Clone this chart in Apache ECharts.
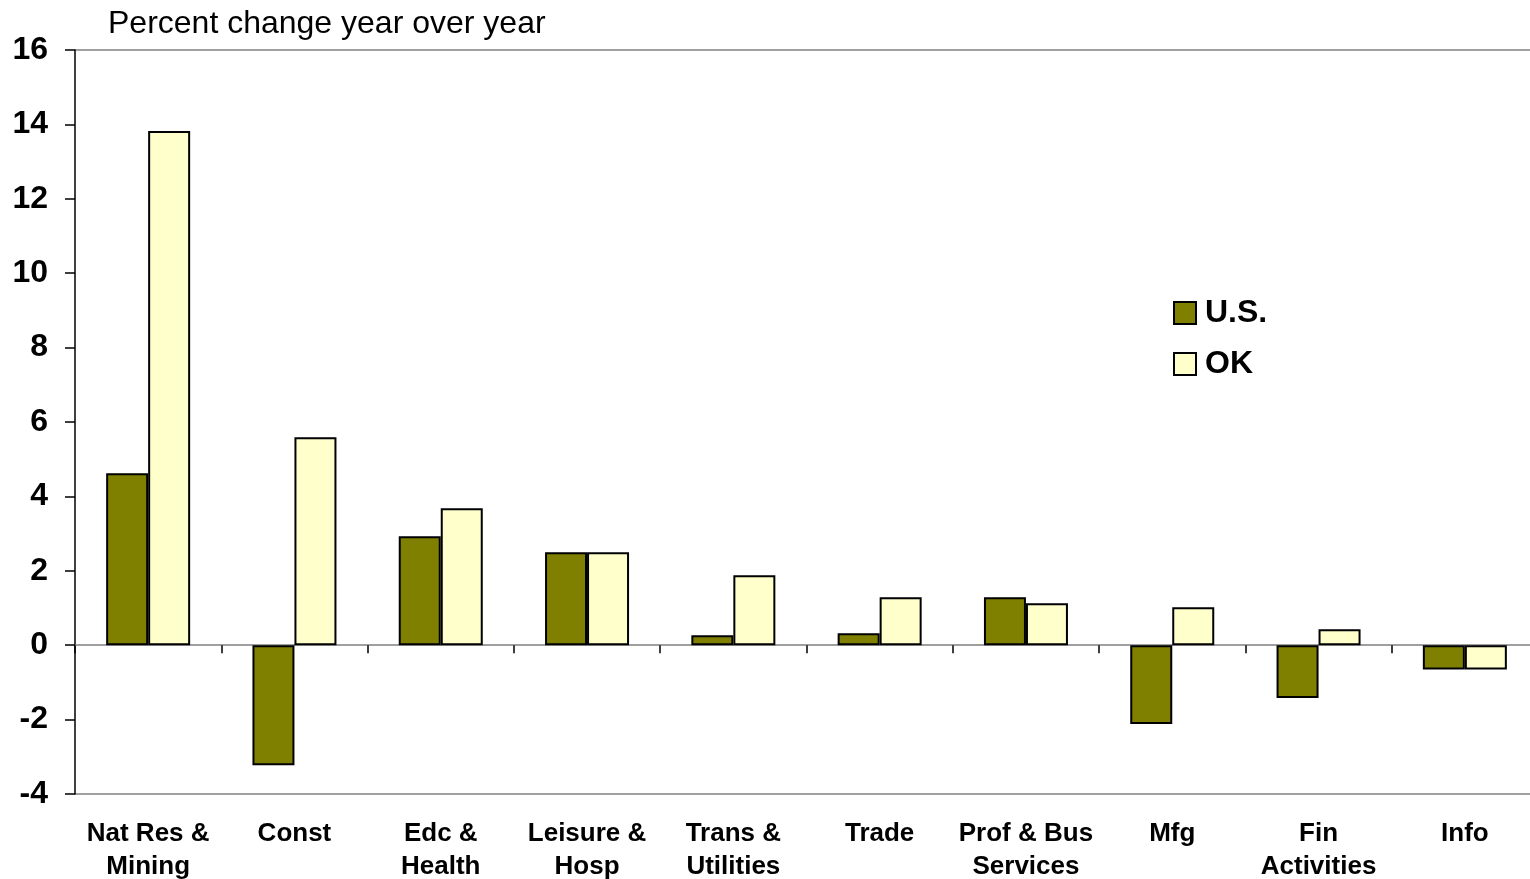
<!DOCTYPE html>
<html>
<head>
<meta charset="utf-8">
<title>Employment change by industry</title>
<script src="https://cdn.jsdelivr.net/npm/echarts@6/dist/echarts.min.js"></script>
<style>
  html, body { margin: 0; padding: 0; background: #ffffff; overflow: hidden; }
  #chart { width: 1530px; height: 879px; }
</style>
</head>
<body>
<div id="chart"></div>
<script>
// Industry sectors
const categories = [
  'Nat Res &\nMining', 'Const', 'Edc &\nHealth', 'Leisure &\nHosp', 'Trans &\nUtilities',
  'Trade', 'Prof & Bus\nServices', 'Mfg', 'Fin\nActivities', 'Info'
];
// Percent change year over year
const usValues = [4.62, -3.23, 2.93, 2.5, 0.27, 0.32, 1.29, -2.12, -1.42, -0.65];
const okValues = [13.82, 5.59, 3.68, 2.5, 1.88, 1.29, 1.13, 1.02, 0.43, -0.65];
const seriesNames = ['U.S.', 'OK'];

const FONT = '"Liberation Sans", Arial, Helvetica, sans-serif';

const chart = echarts.init(document.getElementById('chart'), null, { renderer: 'canvas' });

// Split lines drawn only at the min and max of the value axis (-4 and 16)
const clear = 'rgba(0,0,0,0)';
const splitColors = ['#808080', clear, clear, clear, clear, clear, clear, clear, clear, clear, '#808080'];

chart.setOption({
  animation: false,
  backgroundColor: '#ffffff',
  title: {
    text: 'Percent change year over year',
    left: 103,
    top: 3,
    textStyle: { fontFamily: FONT, fontSize: 32, fontWeight: 'normal', color: '#000' }
  },
  legend: {
    orient: 'vertical',
    left: 1168,
    top: 292,
    itemWidth: 22,
    itemHeight: 22,
    itemGap: 19,
    icon: 'rect',
    data: seriesNames,
    textStyle: { fontFamily: FONT, fontSize: 32, fontWeight: 'bold', color: '#000', padding: [0, 0, 0, 4] }
  },
  grid: { left: 75, right: -8, top: 50, bottom: 85, containLabel: false, outerBoundsMode: 'none' },
  xAxis: [
    {
      // axis line at zero with boundary ticks
      type: 'category',
      data: categories,
      position: 'bottom',
      axisLine: { onZero: true, lineStyle: { color: '#808080', width: 1.5 } },
      axisTick: { show: true, inside: false, length: 8, lineStyle: { color: '#000', width: 1.5 } },
      axisLabel: { show: false },
      splitLine: { show: false }
    },
    {
      // category labels along the bottom
      type: 'category',
      data: categories,
      position: 'bottom',
      axisLine: { show: false, onZero: false },
      axisTick: { show: false },
      axisLabel: {
        show: true,
        interval: 0,
        margin: 23,
        fontFamily: FONT,
        fontSize: 26,
        fontWeight: 'bold',
        lineHeight: 33,
        color: '#000'
      },
      splitLine: { show: false }
    }
  ],
  yAxis: {
    type: 'value',
    min: -4,
    max: 16,
    interval: 2,
    axisLine: { show: true, lineStyle: { color: '#000', width: 1.5 } },
    axisTick: { show: true, inside: false, length: 10, lineStyle: { color: '#000', width: 1.5 } },
    axisLabel: {
      margin: 27,
      fontFamily: FONT,
      fontSize: 32,
      fontWeight: 'bold',
      color: '#000'
    },
    splitLine: { show: true, lineStyle: { color: splitColors, width: 1.5 } }
  },
  series: [
    {
      name: seriesNames[0],
      type: 'bar',
      xAxisIndex: 0,
      data: usValues,
      barWidth: 42,
      barGap: '0%',
      itemStyle: { color: '#808000', borderColor: '#000', borderWidth: 2 }
    },
    {
      name: seriesNames[1],
      type: 'bar',
      xAxisIndex: 0,
      data: okValues,
      barWidth: 42,
      barGap: '0%',
      itemStyle: { color: '#FFFFCC', borderColor: '#000', borderWidth: 2 }
    }
  ]
});
</script>
</body>
</html>
